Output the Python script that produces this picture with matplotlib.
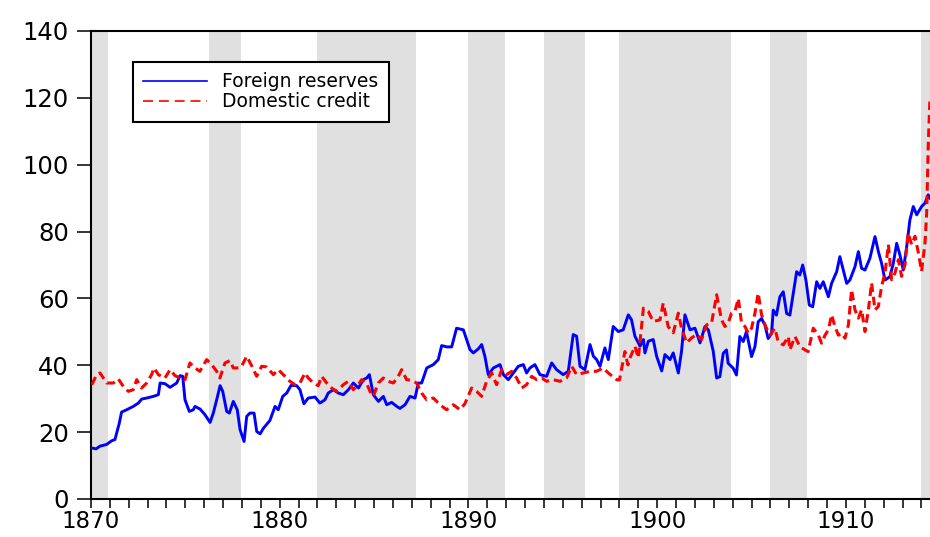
import matplotlib
matplotlib.use("Agg")
import matplotlib.pyplot as plt
from matplotlib.lines import Line2D
from matplotlib.ticker import MultipleLocator

# ---------------- data ----------------
reserves_year = [
    1870.00, 1870.27, 1870.47, 1870.82, 1871.09, 1871.27, 1871.36, 1871.50, 1871.62, 1871.89,
    1872.24, 1872.51, 1872.69, 1872.95, 1873.30, 1873.57, 1873.66, 1873.92, 1874.19, 1874.54,
    1874.72, 1874.86, 1874.98, 1875.21, 1875.42, 1875.51, 1875.78, 1876.04, 1876.31, 1876.48,
    1876.66, 1876.84, 1876.98, 1877.19, 1877.33, 1877.54, 1877.75, 1877.90, 1878.11, 1878.25,
    1878.42, 1878.64, 1878.78, 1878.96, 1879.14, 1879.48, 1879.75, 1879.92, 1880.16, 1880.37,
    1880.60, 1880.90, 1881.07, 1881.28, 1881.51, 1881.87, 1882.13, 1882.40, 1882.57, 1882.84,
    1883.10, 1883.37, 1883.64, 1883.90, 1884.17, 1884.43, 1884.61, 1884.75, 1884.96, 1885.23,
    1885.49, 1885.67, 1885.93, 1886.20, 1886.37, 1886.64, 1886.90, 1887.17, 1887.34, 1887.52,
    1887.79, 1888.14, 1888.40, 1888.58, 1888.85, 1889.11, 1889.37, 1889.73, 1889.90, 1890.08,
    1890.26, 1890.52, 1890.70, 1890.87, 1891.05, 1891.32, 1891.67, 1891.85, 1892.11, 1892.38,
    1892.64, 1892.91, 1893.08, 1893.26, 1893.52, 1893.79, 1894.14, 1894.41, 1894.67, 1895.02,
    1895.29, 1895.55, 1895.73, 1895.91, 1896.17, 1896.44, 1896.62, 1896.79, 1896.97, 1897.23,
    1897.41, 1897.67, 1897.94, 1898.20, 1898.47, 1898.64, 1898.82, 1899.09, 1899.27, 1899.35,
    1899.53, 1899.79, 1899.97, 1900.24, 1900.41, 1900.68, 1900.85, 1901.12, 1901.29, 1901.47,
    1901.74, 1902.00, 1902.27, 1902.53, 1902.71, 1902.97, 1903.15, 1903.32, 1903.50, 1903.67,
    1903.76, 1904.03, 1904.20, 1904.38, 1904.56, 1904.73, 1905.00, 1905.18, 1905.35, 1905.53,
    1905.71, 1905.88, 1906.06, 1906.15, 1906.32, 1906.50, 1906.68, 1906.86, 1907.03, 1907.21,
    1907.39, 1907.56, 1907.71, 1907.88, 1908.06, 1908.24, 1908.45, 1908.62, 1908.80, 1909.07,
    1909.24, 1909.51, 1909.68, 1909.86, 1910.04, 1910.21, 1910.48, 1910.66, 1910.83, 1911.01,
    1911.27, 1911.54, 1911.72, 1911.89, 1912.07, 1912.33, 1912.51, 1912.69, 1912.86, 1913.04,
    1913.22, 1913.39, 1913.57, 1913.75, 1914.01, 1914.19, 1914.36, 1914.45,
]
reserves = [
    15.3, 15.0, 15.8, 16.3, 17.4, 17.8, 19.7, 22.7, 26.0, 26.7,
    27.7, 28.7, 29.9, 30.2, 30.7, 31.2, 34.7, 34.5, 33.4, 34.7,
    36.9, 36.7, 29.7, 26.2, 26.7, 27.7, 26.9, 25.2, 22.9, 25.7,
    29.7, 33.9, 32.2, 26.2, 25.7, 29.2, 26.7, 20.7, 17.2, 24.7,
    25.7, 25.7, 20.2, 19.5, 21.2, 23.5, 27.7, 26.7, 30.7, 31.7,
    34.0, 33.9, 32.7, 28.5, 30.2, 30.5, 28.7, 29.7, 31.7, 32.7,
    31.7, 31.2, 32.7, 34.7, 33.2, 35.7, 36.2, 37.2, 31.2, 29.2,
    30.7, 28.2, 28.9, 27.7, 27.1, 28.2, 30.7, 30.2, 34.7, 34.7,
    39.2, 40.2, 41.7, 45.9, 45.5, 45.5, 51.1, 50.6, 47.7, 44.7,
    43.7, 44.9, 46.2, 42.7, 37.2, 39.2, 40.2, 37.2, 35.7, 37.7,
    39.7, 40.2, 37.7, 39.2, 40.2, 37.2, 36.7, 40.7, 38.7, 37.2,
    38.2, 49.2, 48.7, 39.7, 38.7, 46.2, 42.7, 41.7, 39.7, 45.2,
    41.7, 51.6, 50.1, 50.6, 55.1, 53.6, 48.7, 45.7, 47.7, 43.7,
    47.2, 47.7, 42.7, 38.3, 43.2, 41.7, 43.7, 37.7, 44.2, 55.1,
    50.6, 51.1, 46.7, 51.6, 50.6, 44.2, 36.2, 36.6, 43.6, 44.6,
    40.6, 39.1, 37.1, 48.6, 47.1, 50.1, 42.6, 45.6, 53.0, 54.0,
    52.0, 48.0, 49.5, 56.5, 55.0, 60.5, 62.0, 55.5, 55.0, 61.5,
    68.0, 67.0, 70.0, 65.5, 58.0, 57.5, 65.0, 63.0, 65.0, 60.5,
    64.5, 68.0, 72.5, 68.5, 64.5, 65.5, 69.5, 74.0, 69.0, 68.5,
    72.0, 78.5, 74.0, 70.5, 65.5, 66.5, 70.5, 76.5, 73.0, 68.5,
    75.5, 83.5, 87.5, 85.0, 87.5, 88.5, 91.0, 90.0,
]

credit_year = [
    1870.04, 1870.30, 1870.48, 1870.83, 1871.18, 1871.45, 1871.71, 1871.98, 1872.24, 1872.42,
    1872.68, 1872.95, 1873.21, 1873.34, 1873.57, 1873.92, 1874.19, 1874.45, 1874.72, 1874.98,
    1875.24, 1875.51, 1875.77, 1876.13, 1876.39, 1876.66, 1876.83, 1877.10, 1877.36, 1877.54,
    1877.81, 1877.98, 1878.25, 1878.51, 1878.78, 1879.04, 1879.31, 1879.66, 1879.92, 1880.19,
    1880.54, 1880.81, 1881.07, 1881.34, 1881.51, 1881.78, 1882.04, 1882.22, 1882.49, 1882.75,
    1883.02, 1883.37, 1883.63, 1883.90, 1884.16, 1884.34, 1884.60, 1884.78, 1884.96, 1885.22,
    1885.49, 1885.75, 1886.02, 1886.28, 1886.46, 1886.72, 1886.99, 1887.25, 1887.52, 1887.78,
    1888.14, 1888.49, 1888.84, 1889.20, 1889.55, 1889.81, 1890.17, 1890.43, 1890.70, 1890.96,
    1891.23, 1891.49, 1891.76, 1892.02, 1892.29, 1892.55, 1892.82, 1893.08, 1893.35, 1893.61,
    1893.88, 1894.14, 1894.49, 1894.85, 1895.20, 1895.47, 1895.73, 1896.08, 1896.44, 1896.79,
    1897.14, 1897.41, 1897.85, 1898.00, 1898.29, 1898.45, 1898.56, 1898.82, 1899.00, 1899.27,
    1899.53, 1899.79, 1900.15, 1900.32, 1900.58, 1900.85, 1901.12, 1901.29, 1901.56, 1901.82,
    1902.09, 1902.35, 1902.62, 1902.88, 1903.15, 1903.41, 1903.59, 1903.76, 1903.94, 1904.12,
    1904.30, 1904.47, 1904.65, 1904.83, 1905.00, 1905.18, 1905.35, 1905.53, 1905.71, 1905.97,
    1906.24, 1906.41, 1906.68, 1906.95, 1907.03, 1907.30, 1907.56, 1907.83, 1908.00, 1908.27,
    1908.54, 1908.71, 1908.89, 1909.07, 1909.24, 1909.42, 1909.60, 1909.77, 1909.95, 1910.13,
    1910.30, 1910.48, 1910.66, 1910.83, 1911.01, 1911.19, 1911.36, 1911.54, 1911.72, 1911.89,
    1912.07, 1912.25, 1912.42, 1912.60, 1912.78, 1912.95, 1913.13, 1913.30, 1913.48, 1913.66,
    1913.84, 1914.01, 1914.19, 1914.28, 1914.36, 1914.45,
]
credit = [
    34.2, 37.2, 37.7, 34.7, 34.7, 35.9, 33.7, 32.2, 32.7, 35.7,
    33.2, 34.7, 37.2, 39.2, 37.2, 36.2, 38.7, 36.9, 36.2, 35.7,
    40.7, 39.2, 38.2, 41.7, 40.2, 38.2, 36.2, 40.7, 41.4, 39.2,
    39.2, 39.7, 42.7, 39.9, 36.7, 39.7, 39.5, 37.2, 38.7, 37.2,
    35.2, 34.2, 34.7, 37.7, 36.2, 34.7, 33.9, 36.7, 34.7, 33.2,
    32.2, 34.2, 35.2, 32.7, 34.2, 35.7, 34.7, 32.2, 30.7, 34.7,
    36.2, 35.2, 34.7, 36.7, 38.7, 35.7, 35.5, 34.7, 31.7, 29.7,
    30.2, 28.2, 26.7, 28.2, 26.7, 28.5, 33.2, 32.2, 30.7, 35.2,
    37.7, 34.2, 38.7, 37.2, 38.2, 36.2, 33.2, 34.2, 36.7, 35.7,
    36.2, 35.2, 35.7, 35.2, 36.2, 39.7, 37.2, 37.7, 38.2, 38.2,
    39.2, 37.7, 35.7, 35.6, 44.1, 40.1, 42.2, 45.7, 42.2, 57.1,
    56.1, 53.1, 53.6, 58.6, 51.6, 49.7, 55.6, 51.1, 46.7, 48.2,
    49.2, 47.7, 52.1, 52.6, 61.1, 53.6, 51.6, 52.6, 55.6, 56.1,
    60.0, 52.6, 51.6, 49.6, 51.1, 55.6, 61.6, 55.1, 52.1, 49.0,
    51.1, 47.0, 46.1, 48.6, 44.6, 48.6, 45.6, 44.6, 44.1, 51.1,
    49.0, 46.6, 49.0, 50.6, 55.1, 51.6, 49.0, 49.6, 48.1, 52.1,
    62.6, 56.6, 54.1, 56.6, 50.1, 56.6, 64.6, 56.6, 57.6, 63.6,
    67.6, 76.1, 65.6, 67.6, 71.6, 66.6, 70.1, 79.6, 76.1, 78.6,
    73.6, 68.1, 76.6, 85.6, 105.6, 119.4,
]

shade_start = [1870.0, 1876.25, 1882.0, 1890.0, 1894.0, 1898.0, 1906.0, 1914.0]
shade_end = [1870.88, 1877.95, 1887.2, 1891.95, 1896.2, 1903.9, 1907.92, 1914.8]

series_labels = ["Foreign reserves", "Domestic credit"]
y_ticks = [0, 20, 40, 60, 80, 100, 120, 140]
x_ticks = [1870, 1880, 1890, 1900, 1910]

# ---------------- figure ----------------
W, H = 930, 537
fig = plt.figure(figsize=(W / 100, H / 100), dpi=100)
ax = fig.add_axes([91 / W, 38 / H, 844 / W, 468 / H])

for s, e in zip(shade_start, shade_end):
    ax.axvspan(s, e, color="#E0E0E0", lw=0, zorder=0)

ax.plot(reserves_year, reserves, color="#0000FF", lw=2.1, zorder=3)
ax.plot(credit_year, credit, color="#FF0000", lw=2.2, zorder=4,
        linestyle=(0, (2.8, 1.6)))

ax.set_xlim(1870, 1914.72)
ax.set_ylim(0, 140)

ax.set_yticks(y_ticks)
ax.set_yticklabels([str(v) for v in y_ticks])
ax.set_xticks(x_ticks)
ax.set_xticklabels([str(v) for v in x_ticks])
ax.xaxis.set_minor_locator(MultipleLocator(1))

ax.tick_params(axis="y", which="major", direction="out", length=10, width=1.1,
               pad=6, labelsize=17.5, colors="black")
ax.tick_params(axis="x", which="both", direction="out", length=6.5, width=1.1,
               pad=1.2, labelsize=16.5, colors="black")
ax.tick_params(top=False, right=False)

for side in ["left", "bottom", "top"]:
    ax.spines[side].set_linewidth(1.5)
    ax.spines[side].set_color("black")
ax.spines["right"].set_visible(False)

handles = [
    Line2D([], [], color="#0000FF", lw=1.2),
    Line2D([], [], color="#FF0000", lw=1.2, linestyle=(0, (6, 3.5))),
]
leg = ax.legend(handles, series_labels, loc="upper left",
                bbox_to_anchor=((133 - 91) / 844, (499 - 62) / 468),
                borderaxespad=0, fontsize=13.5, frameon=True, fancybox=False,
                framealpha=1, edgecolor="black", handlelength=3.4,
                handletextpad=0.8, labelspacing=0.05, borderpad=0.55)
leg.get_frame().set_linewidth(1.5)
leg.set_zorder(10)

fig.savefig("out.png", dpi=100)
